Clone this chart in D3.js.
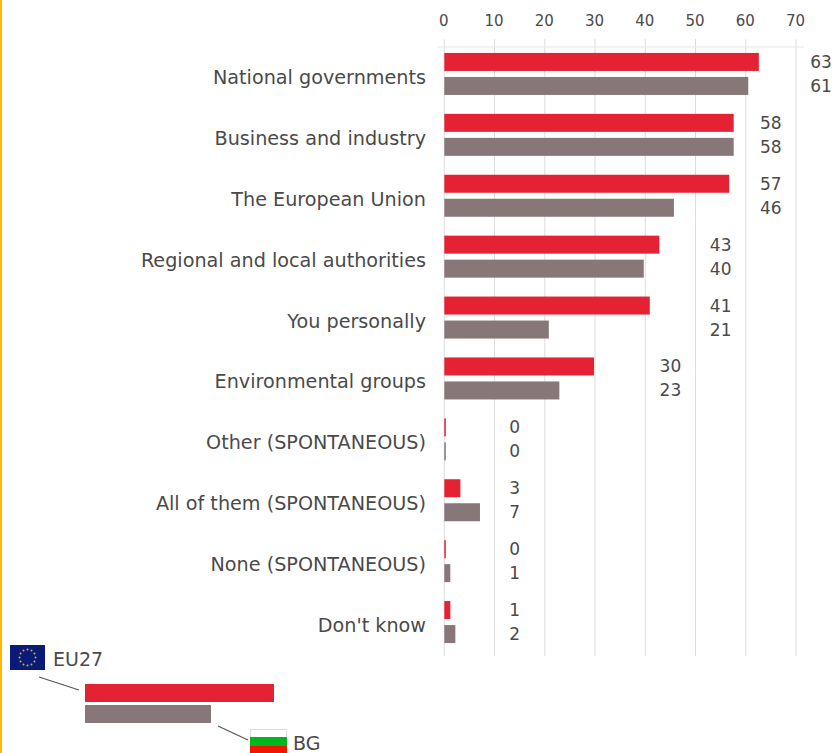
<!DOCTYPE html>
<html>
<head>
<meta charset="utf-8">
<script src="https://cdn.jsdelivr.net/npm/d3@7"></script>
<style>
    html, body { margin: 0; padding: 0; background: #fff; overflow: hidden; }
    text { font-family: 'DejaVu Sans', sans-serif; fill: #4a4a4a; }
</style>
</head>
<body>
<div id="chart"></div>
<script>
// Chart data
const categories = [
    'National governments',
    'Business and industry',
    'The European Union',
    'Regional and local authorities',
    'You personally',
    'Environmental groups',
    'Other (SPONTANEOUS)',
    'All of them (SPONTANEOUS)',
    'None (SPONTANEOUS)',
    "Don't know"
];
const eu27Values = [62.6, 57.6, 56.7, 42.8, 40.9, 29.8, 0.3, 3.2, 0.3, 1.2];
const bgValues = [60.5, 57.6, 45.7, 39.7, 20.8, 22.9, 0.3, 7.1, 1.2, 2.2];
const eu27Labels = [63, 58, 57, 43, 41, 30, 0, 3, 0, 1];
const bgLabels = [61, 58, 46, 40, 21, 23, 0, 7, 1, 2];
// the value labels sit in stepped columns, given here in axis units
const labelColumns = [75, 65, 65, 55, 55, 45, 14, 14, 14, 14];
const xTicks = [0, 10, 20, 30, 40, 50, 60, 70];

const RED = '#e52233';
const GREY = '#887779';

const width = 833;
const height = 753;

const svg = d3.select('#chart').append('svg')
    .attr('width', width)
    .attr('height', height)
    .style('display', 'block');

// Yellow edge of the page
svg.append('rect')
    .attr('x', 0).attr('y', 0)
    .attr('width', 2).attr('height', height)
    .attr('fill', '#fbb900');

const xScale = d3.scaleLinear().domain([0, 70]).range([444.3, 796]);
const yScale = d3.scaleBand()
    .domain(categories)
    .range([43.5, 652.5])
    .paddingInner(0)
    .paddingOuter(0);

const barHeight = 18;
const barGap = 6;

// Grid
svg.append('g').selectAll('line')
    .data(xTicks)
  .enter().append('line')
    .attr('x1', d => xScale(d))
    .attr('x2', d => xScale(d))
    .attr('y1', 39)
    .attr('y2', 656)
    .attr('stroke', '#dcdcdc')
    .attr('stroke-width', 1);

svg.append('line')
    .attr('x1', 437).attr('x2', 804)
    .attr('y1', 47).attr('y2', 47)
    .attr('stroke', '#e6e6e6')
    .attr('stroke-width', 1);

// Axis on top
const axis = d3.axisTop(xScale).tickValues(xTicks).tickSize(0).tickPadding(0);
const axisG = svg.append('g')
    .attr('transform', 'translate(-1,26)')
    .call(axis);
axisG.select('.domain').remove();
axisG.selectAll('text').style('font-size', '15px').style('font-family', "'DejaVu Sans', sans-serif").attr('fill', '#4a4a4a');

// Bars
const redTop = c => yScale(c) + (yScale.bandwidth() - 2 * barHeight - barGap) / 2;
const greyTop = c => redTop(c) + barHeight + barGap;

svg.append('g').selectAll('rect')
    .data(categories)
  .enter().append('rect')
    .attr('x', xScale(0))
    .attr('y', d => redTop(d))
    .attr('width', (d, i) => xScale(eu27Values[i]) - xScale(0))
    .attr('height', barHeight)
    .attr('fill', RED);

svg.append('g').selectAll('rect')
    .data(categories)
  .enter().append('rect')
    .attr('x', xScale(0))
    .attr('y', d => greyTop(d))
    .attr('width', (d, i) => xScale(bgValues[i]) - xScale(0))
    .attr('height', barHeight)
    .attr('fill', GREY);

// Category labels
svg.append('g').selectAll('text')
    .data(categories)
  .enter().append('text')
    .attr('x', 426)
    .attr('y', d => yScale(d) + yScale.bandwidth() / 2 + 10)
    .attr('text-anchor', 'end')
    .style('font-size', '19.2px')
    .text(d => d);

// Value labels
svg.append('g').selectAll('text')
    .data(categories)
  .enter().append('text')
    .attr('x', (d, i) => xScale(labelColumns[i]))
    .attr('y', d => redTop(d) + 15)
    .attr('text-anchor', 'middle')
    .style('font-size', '17px')
    .text((d, i) => eu27Labels[i]);

svg.append('g').selectAll('text')
    .data(categories)
  .enter().append('text')
    .attr('x', (d, i) => xScale(labelColumns[i]))
    .attr('y', d => greyTop(d) + 15)
    .attr('text-anchor', 'middle')
    .style('font-size', '17px')
    .text((d, i) => bgLabels[i]);

// Legend
const legend = svg.append('g');
legend.append('rect').attr('x', 10).attr('y', 645).attr('width', 35).attr('height', 25).attr('fill', '#0a1a78');
d3.range(12).forEach(i => {
    const a = i * Math.PI / 6;
    legend.append('circle')
        .attr('cx', 27.5 + Math.cos(a) * 8)
        .attr('cy', 657.5 + Math.sin(a) * 8)
        .attr('r', 1)
        .attr('fill', '#c9b53c');
});
legend.append('text').attr('x', 53).attr('y', 666).style('font-size', '19px').text('EU27');
legend.append('line').attr('x1', 39).attr('y1', 677).attr('x2', 79).attr('y2', 690).attr('stroke', '#555').attr('stroke-width', 1.2);
legend.append('rect').attr('x', 85).attr('y', 684).attr('width', 189).attr('height', 18).attr('fill', RED);
legend.append('rect').attr('x', 85).attr('y', 705).attr('width', 126).attr('height', 18).attr('fill', GREY);
legend.append('line').attr('x1', 218).attr('y1', 726).attr('x2', 248).attr('y2', 740).attr('stroke', '#555').attr('stroke-width', 1.2);
legend.append('rect').attr('x', 250.5).attr('y', 729.5).attr('width', 36).attr('height', 8).attr('fill', '#fff').attr('stroke', '#ddd').attr('stroke-width', 1);
legend.append('rect').attr('x', 250).attr('y', 737).attr('width', 37).attr('height', 9).attr('fill', '#00b81e');
legend.append('rect').attr('x', 250).attr('y', 746).attr('width', 37).attr('height', 7).attr('fill', '#f21500');
legend.append('text').attr('x', 293).attr('y', 750).style('font-size', '19px').text('BG');
</script>
</body>
</html>
